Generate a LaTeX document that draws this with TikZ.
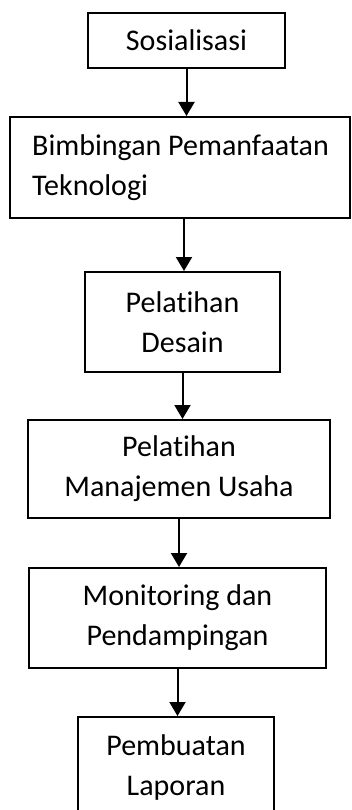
\documentclass[tikz,border=0pt]{standalone}
\usepackage{fontspec}
\setmainfont[Ligatures=NoCommon,RawFeature=-liga]{Carlito}
\usetikzlibrary{arrows.meta}
\begin{document}
\begin{tikzpicture}[x=1bp,y=-1bp,
  box/.style={draw=black,line width=2bp,rectangle,inner sep=0pt,align=center,
    font=\fontsize{30bp}{40bp}\selectfont,text=black},
  txt/.style={inner sep=0pt,font=\fontsize{30bp}{40bp}\selectfont,text=black},
  arr/.style={draw=black,line width=2bp,-{Triangle[width=16bp,length=14bp]}}]
\useasboundingbox (0,0) rectangle (351,810);
\node[box,minimum width=197bp,minimum height=55bp] (b1) at (186.5,40.5) {Sosialisasi};
\node[box,minimum width=340bp,minimum height=101bp] (b2) at (180,167.5) {};
\node[txt,anchor=west,align=left] (b2t) at (32,167.5) {Bimbingan Pemanfaatan\\Teknologi};
\node[box,minimum width=195bp,minimum height=100bp] (b3) at (182.5,322) {Pelatihan\\Desain};
\node[box,minimum width=302bp,minimum height=98bp] (b4) at (179,469) {Pelatihan\\Manajemen Usaha};
\node[box,minimum width=297bp,minimum height=100bp] (b5) at (177.5,618) {Monitoring dan\\Pendampingan};
\node[box,minimum width=196bp,minimum height=100bp] (b6) at (176,767) {Pembuatan\\Laporan};
\draw[arr] (b1.south) -- (b1.south |- b2.north);
\draw[arr] ([xshift=1.5bp]b3.north |- b2.south) -- ([xshift=1.5bp]b3.north);
\draw[arr] (b3.south) -- (b3.south |- b4.north);
\draw[arr] (b4.south) -- (b4.south |- b5.north);
\draw[arr] (b5.south) -- (b5.south |- b6.north);
\end{tikzpicture}
\end{document}
